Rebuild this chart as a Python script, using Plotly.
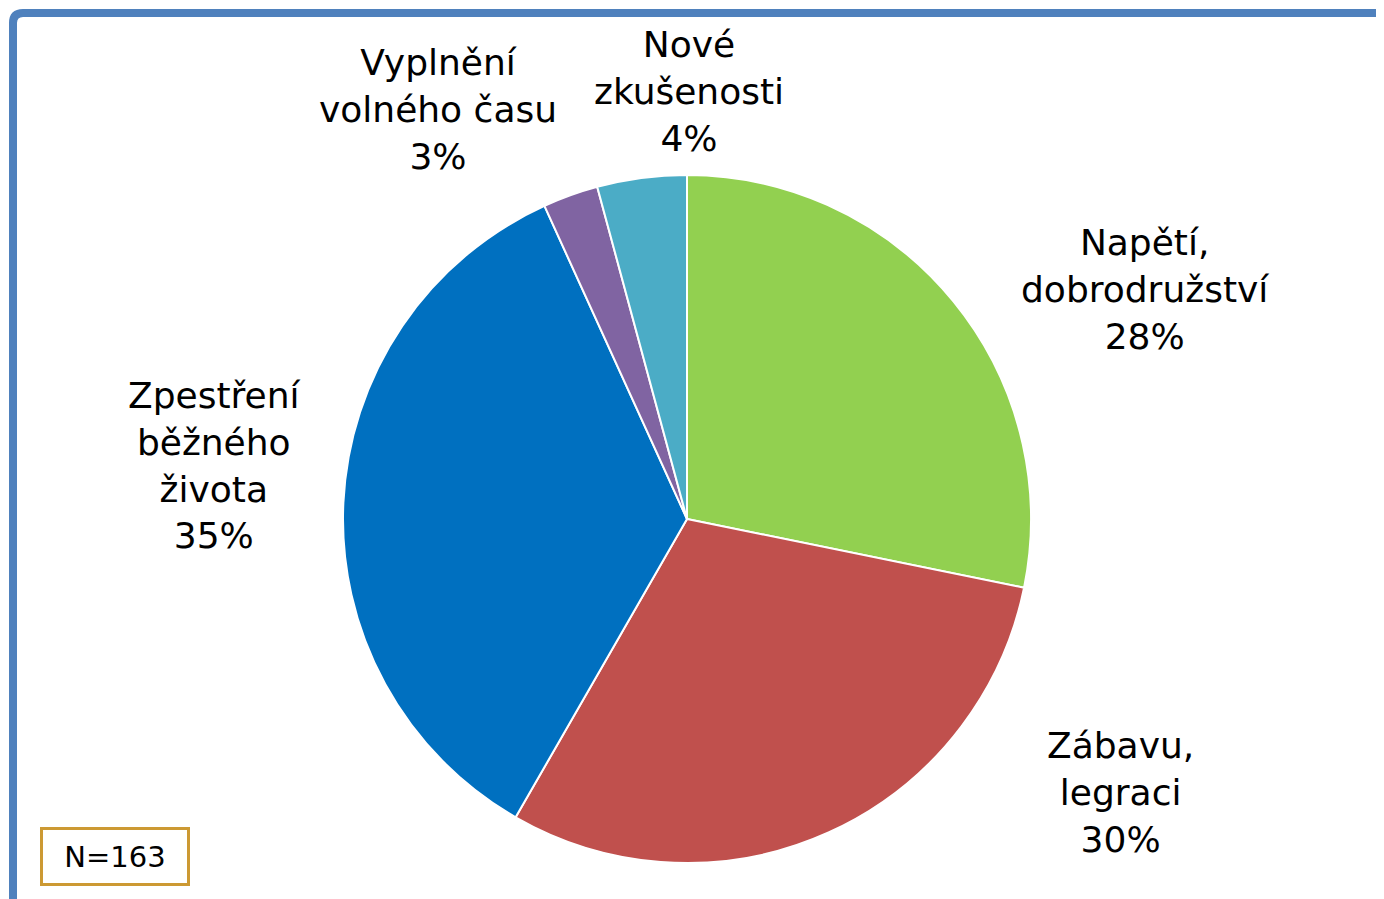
import plotly.graph_objects as go

labels = ["Napětí,<br>dobrodružství", "Zábavu,<br>legraci", "Zpestření<br>běžného<br>života",
          "Vyplnění<br>volného času", "Nové<br>zkušenosti"]
values = [28.2, 30.1, 34.9, 2.6, 4.2]
colors = ["#92D050", "#C0504D", "#0070C0", "#8064A2", "#4BACC6"]
n_text = "N=163"

W, H = 1384, 899
OFF = 8  # page body margin offset
cx, cy, r = 687 - OFF, 519 - OFF, 344

# label centres (layout, in page pixels)
label_pos = [(1145, 289), (1120, 792), (214, 465), (438, 110), (689, 92)]


def px(x):
    return (x - OFF) / W


def py(y):
    return 1 - (y - OFF) / H


fig = go.Figure(go.Pie(
    labels=labels,
    values=values,
    sort=False,
    direction="clockwise",
    rotation=0,
    marker=dict(colors=colors, line=dict(color="white", width=2)),
    textinfo="none",
    hovertemplate="%{label}<br>%{percent:.0%}<extra></extra>",
    showlegend=False,
    automargin=False,
    domain=dict(x=[(cx - r) / W, (cx + r) / W], y=[(H - cy - r) / H, (H - cy + r) / H]),
))

total = sum(values)
annotations = []
for lab, v, (lx, ly) in zip(labels, values, label_pos):
    annotations.append(dict(
        text=f"{lab}<br>{round(100 * v / total)}%", xref="paper", yref="paper",
        x=px(lx), y=py(ly), xanchor="center", yanchor="middle", align="center",
        showarrow=False, font=dict(family="DejaVu Sans", size=36, color="black")))

annotations.append(dict(
    text=n_text, xref="paper", yref="paper",
    x=px(115), y=py(856), xanchor="center", yanchor="middle", align="center",
    showarrow=False, font=dict(family="DejaVu Sans", size=29, color="black"),
    width=128, height=37,
    bordercolor="#CC9933", borderwidth=3, borderpad=8, bgcolor="white"))

# frame with rounded top-left corner (page pixels -> figure pixels)
fx, fy, rc = 13 - OFF, 13 - OFF, 10
frame_path = (f"M {fx},{H + 20} L {fx},{fy + rc} Q {fx},{fy} {fx + rc},{fy} L {W + 20},{fy}")

fig.update_layout(
    width=W, height=H,
    margin=dict(l=0, r=0, t=0, b=0, autoexpand=False),
    paper_bgcolor="white",
    plot_bgcolor="white",
    font=dict(family="DejaVu Sans"),
    xaxis=dict(visible=False, range=[0, W], fixedrange=True, showgrid=False, zeroline=False),
    yaxis=dict(visible=False, range=[H, 0], fixedrange=True, showgrid=False, zeroline=False),
    shapes=[dict(type="path", xref="x", yref="y", path=frame_path,
                 line=dict(color="#4F81BD", width=8), layer="above")],
    annotations=annotations,
)

fig.write_html("out.html")
